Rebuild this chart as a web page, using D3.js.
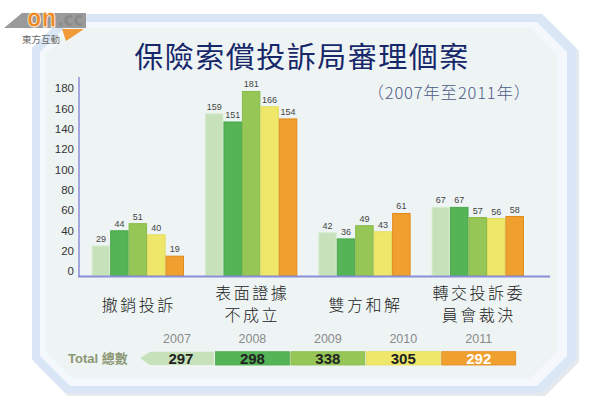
<!DOCTYPE html>
<html><head><meta charset="utf-8">
<script src="https://cdn.jsdelivr.net/npm/d3@7"></script>
<style>
html,body{margin:0;padding:0;background:#fff;}
svg{display:block;}
</style></head>
<body>
<svg id="c" width="600" height="413"></svg>
<script>
const categories = [["撤銷投訴"], ["表面證據","不成立"], ["雙方和解"], ["轉交投訴委","員會裁決"]];
const years = ["2007","2008","2009","2010","2011"];
const values = {
  "2007": [29, 159, 42, 67],
  "2008": [44, 151, 36, 67],
  "2009": [51, 181, 49, 57],
  "2010": [40, 166, 43, 56],
  "2011": [19, 154, 61, 58]
};
const totals = [297, 298, 338, 305, 292];
const yTicks = [0,20,40,60,80,100,120,140,160,180];
const colors = ["#c7e2bb","#55b456","#95c656","#eee76a","#f0a02e"];
const strokes = ["#d6ebcc","#4aa94b","#88bb4a","#e3dc5c","#e08a1a"];
const totalText = ["#222","#222","#222","#222","#fff"];

const svg = d3.select("#c");
const CJK = "'Noto Sans CJK TC','Noto Sans CJK SC',sans-serif";
const SANS = "'Liberation Sans',Arial,'Noto Sans CJK TC',sans-serif";

// frame
const oct = (x0,y0,x1,y1,c) => [[x0+c,y0],[x1-c,y0],[x1,y0+c],[x1,y1-c],[x1-c,y1],[x0+c,y1],[x0,y1-c],[x0,y0+c]];
const line = d3.line();
svg.append("path").attr("d", line(oct(34,17,579,396,34))+"Z").attr("fill","#c9d3dc").attr("opacity",0.5);
svg.append("path").attr("d", line(oct(32,14,576,393,34))+"Z").attr("fill","#d8e6f5");
svg.append("path").attr("d", line(oct(40,22,567,386,30))+"Z").attr("fill","#f4f8fc");
svg.append("path").attr("d", line(oct(46,28,557,378,26))+"Z").attr("fill","#eef4f4");

// logo
const logo = svg.append("g");
logo.append("path").attr("d","M4,28 L22,13 L86,13 L86,28 Z").attr("fill","#9a9a9a");
logo.append("path").attr("d","M62,29 L84,29 L66,41 Z").attr("fill","#f19a38");
logo.append("text").attr("transform","translate(27,27) scale(0.81,1)")
  .attr("font-family","'DejaVu Sans',sans-serif")
  .attr("font-weight","bold").attr("font-size",26).attr("fill","#f08a24")
  .attr("stroke","#fff").attr("stroke-width",0.8).text("on");
logo.append("text").attr("transform","translate(57.5,26) scale(0.87,1)")
  .attr("font-family","'DejaVu Sans',sans-serif")
  .attr("font-weight","bold").attr("font-size",19).attr("fill","#8a8a8a").text(".cc");
logo.append("text").attr("x",22).attr("y",43).attr("font-family",CJK)
  .attr("font-size",9.5).attr("fill","#666").text("東方互動");

// title
svg.append("text").attr("x",302).attr("y",68).attr("text-anchor","middle")
  .attr("font-family",CJK).attr("font-size",29).attr("letter-spacing",1.5)
  .attr("fill","#16276a").text("保險索償投訴局審理個案");
svg.append("text").attr("x",531).attr("y",99).attr("text-anchor","end")
  .attr("font-family",CJK).attr("font-size",16.5).attr("letter-spacing",0.8).attr("font-weight",300)
  .attr("fill","#4d5a86")
  .text("（2007年至2011年）");

// scales
const y = d3.scaleLinear().domain([0,180]).range([275.5, 92.5]);
const x0 = d3.scaleBand().domain(d3.range(categories.length)).range([79, 536.6]).paddingInner(0.185).paddingOuter(0.112);
const x1 = d3.scaleBand().domain(years).range([0, x0.bandwidth()]).padding(0);

// y axis
const yAxis = d3.axisLeft(y).tickValues(yTicks).tickSize(0).tickPadding(5);
const yg = svg.append("g").attr("transform","translate(79,0)").call(yAxis);
yg.select(".domain").remove();
yg.selectAll("text").attr("font-family",SANS).attr("font-size",11.5).attr("fill","#333").attr("dy","-0.05em");

// bars
const groups = svg.append("g").selectAll("g").data(categories).join("g")
  .attr("transform",(d,i)=>`translate(${x0(i)},0)`);
groups.each(function(cat, ci){
  const g = d3.select(this);
  years.forEach((yr, yi) => {
    const v = values[yr][ci];
    g.append("rect").attr("x", x1(yr)+0.5).attr("y", y(v)).attr("width", x1.bandwidth()-1)
      .attr("height", y(0)-y(v)).attr("fill", colors[yi]).attr("stroke", strokes[yi]).attr("stroke-width",1);
    g.append("text").attr("x", x1(yr)+x1.bandwidth()/2).attr("y", y(v)-4).attr("text-anchor","middle")
      .attr("font-family",SANS).attr("font-size",9).attr("fill","#444").text(v);
  });
});

// axis lines
svg.append("line").attr("x1",79).attr("x2",79).attr("y1",77).attr("y2",276.5).attr("stroke","#8a8ed6").attr("stroke-width",1.5);
svg.append("line").attr("x1",78).attr("x2",550).attr("y1",276.5).attr("y2",276.5).attr("stroke","#8a8ed6").attr("stroke-width",1.8);

// category labels
categories.forEach((lines, ci) => {
  const cx = x0(ci) + x0.bandwidth()/2;
  const startY = lines.length === 1 ? 311 : 299;
  lines.forEach((t, li) => {
    svg.append("text").attr("x", cx+1).attr("y", startY + li*22).attr("text-anchor","middle")
      .attr("font-family",CJK).attr("font-size",16).attr("letter-spacing",2.5).attr("font-weight",300)
      .attr("fill","#222").text(t);
  });
});

// totals row
const tx = d3.scaleBand().domain(years).range([140, 515.7]).paddingInner(0.02);
svg.append("text").attr("x",68).attr("y",363).attr("font-family",SANS).attr("font-weight","bold")
  .attr("font-size",13).attr("fill","#8c9673").text("Total 總數");
years.forEach((yr, i) => {
  const bx = tx(yr), bw = tx.bandwidth();
  svg.append("text").attr("x", bx+bw/2).attr("y", 343).attr("text-anchor","middle")
    .attr("font-family",SANS).attr("font-size",12.5).attr("fill","#8a8a8a").text(yr);
  if (i === 0) {
    svg.append("path").attr("d", `M${bx},358.3 L${bx+10},351.7 L${bx+bw},351.7 L${bx+bw},365 L${bx+10},365 Z`)
      .attr("fill", colors[i]);
  } else {
    svg.append("rect").attr("x",bx).attr("y",351.7).attr("width",bw).attr("height",13.3)
      .attr("fill",colors[i]).attr("stroke",strokes[i]).attr("stroke-width",0.8);
  }
  svg.append("text").attr("x", bx+bw/2+ (i===0?4:0)).attr("y", 363.5).attr("text-anchor","middle")
    .attr("font-family",SANS).attr("font-weight","bold").attr("font-size",15)
    .attr("fill", totalText[i]).text(totals[i]);
});
</script>
</body></html>
